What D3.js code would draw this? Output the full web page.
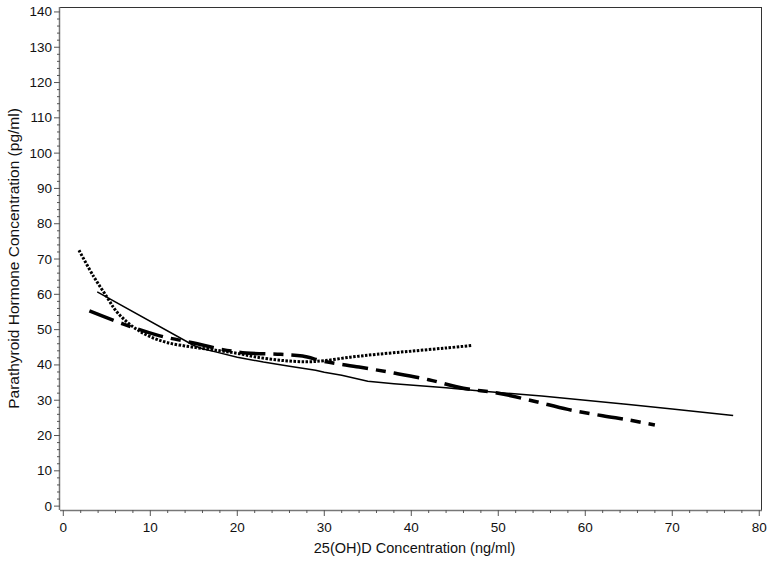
<!DOCTYPE html>
<html><head><meta charset="utf-8">
<script src="https://cdn.jsdelivr.net/npm/d3@7"></script>
<style>body{margin:0;background:#fff}svg{display:block}text{font-family:"Liberation Sans",Arial,sans-serif;fill:#111}</style>
</head><body><svg id="c" width="770" height="561"></svg>
<script>
const xTicks=[0,10,20,30,40,50,60,70,80];
const yTicks=[0,10,20,30,40,50,60,70,80,90,100,110,120,130,140];
const xLabel="25(OH)D Concentration (ng/ml)";
const yLabel="Parathyroid Hormone Concentration (pg/ml)";
const dottedX=[1.8,3.5,5,6,7.3,8.5,10,12,15,18,20,22,25,28,30,33,36,40,44,47];
const dottedY=[72.5,65,59.3,55.5,52.2,50,48,46.3,45,44,43.3,42.3,41.3,40.9,41.2,42.2,43,43.9,44.8,45.5];
const solidX=[3.9,15,16,17.5,20,23,26,29,30,32,35,38,41,44,47,50,55,60,65,70,77];
const solidY=[60.7,45.5,44.6,43.7,42.2,40.8,39.6,38.5,37.9,37.1,35.4,34.7,34.1,33.5,32.8,32.2,31.2,30,28.8,27.5,25.7];
const dashX=[3,7,11,15,18,21,25,27.5,30,34,38,42,46,50,54,58,62,65,68];
const dashY=[55.3,51.5,48.3,46.2,44.5,43.4,43,42.5,41,39.4,37.7,35.8,33.4,32,29.8,27.4,25.6,24.4,23];

const svg=d3.select("#c");
const L=60,R=761,T=7,B=510;
const x=d3.scaleLinear().domain([-0.38,80.2]).range([L,R]);
const y=d3.scaleLinear().domain([-1.1,141.4]).range([B,T]);

svg.append("line").attr("x1",L).attr("x2",R).attr("y1",T+0.5).attr("y2",T+0.5).attr("stroke","#333");
svg.append("line").attr("x1",R+0.5).attr("x2",R+0.5).attr("y1",T).attr("y2",B).attr("stroke","#333");

const gx=svg.append("g").attr("transform",`translate(0,${B})`);
gx.append("line").attr("x1",L).attr("x2",R+1).attr("y1",0.5).attr("y2",0.5).attr("stroke","#777").attr("stroke-width",1.5);
const xMinor=d3.range(0,81,2);
gx.selectAll(".mx").data(xMinor).join("line").attr("x1",d=>x(d)).attr("x2",d=>x(d)).attr("y1",0).attr("y2",d=>d%10===0?6:3).attr("stroke","#555");
gx.selectAll(".tx").data(xTicks).join("text").attr("x",d=>x(d)).attr("y",22).attr("text-anchor","middle").attr("font-size",13.5).text(d=>d);

const gy=svg.append("g").attr("transform",`translate(${L},0)`);
gy.append("line").attr("x1",-0.5).attr("x2",-0.5).attr("y1",T).attr("y2",B).attr("stroke","#777").attr("stroke-width",1.5);
const yMinor=d3.range(0,141,2);
gy.selectAll(".my").data(yMinor).join("line").attr("y1",d=>y(d)).attr("y2",d=>y(d)).attr("x1",0).attr("x2",d=>d%10===0?-6:-3).attr("stroke","#555");
gy.selectAll(".ty").data(yTicks).join("text").attr("x",-8).attr("y",d=>y(d)+4.5).attr("text-anchor","end").attr("font-size",13.5).text(d=>d);

svg.append("text").attr("x",(L+R)/2+4).attr("y",553).attr("text-anchor","middle").attr("font-size",14.5).text(xLabel);
svg.append("text").attr("transform",`translate(19,${(T+B)/2}) rotate(-90)`).attr("text-anchor","middle").attr("font-size",15.5).text(yLabel);

const z=(a,b)=>a.map((v,i)=>[v,b[i]]);
const lineLin=d3.line().x(d=>x(d[0])).y(d=>y(d[1]));
const lineSm=d3.line().x(d=>x(d[0])).y(d=>y(d[1])).curve(d3.curveCatmullRom.alpha(0.5));
svg.append("path").attr("d",lineLin(z(solidX,solidY))).attr("fill","none").attr("stroke","#000").attr("stroke-width",1.5);
svg.append("path").attr("d",lineSm(z(dashX,dashY))).attr("fill","none").attr("stroke","#000").attr("stroke-width",3.5).attr("stroke-dasharray","26,8,10,8");
svg.append("path").attr("d",lineSm(z(dottedX,dottedY))).attr("fill","none").attr("stroke","#000").attr("stroke-width",3).attr("stroke-dasharray","2.5,1.5");
</script></body></html>
